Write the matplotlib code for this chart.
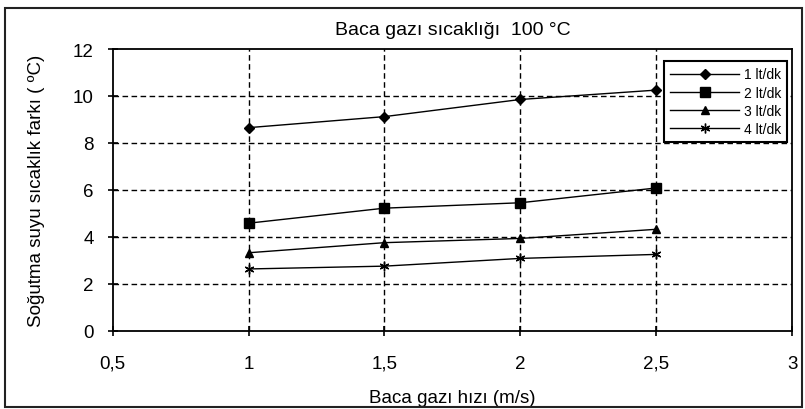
import numpy as np
import matplotlib.pyplot as plt
from matplotlib.patches import Rectangle

plt.rcParams["font.family"] = ["Liberation Sans", "DejaVu Sans"]

# veri
hiz = [1, 1.5, 2, 2.5]
seri_1 = [8.65, 9.12, 9.85, 10.25]
seri_2 = [4.58, 5.22, 5.45, 6.08]
seri_3 = [3.32, 3.75, 3.93, 4.32]
seri_4 = [2.63, 2.75, 3.08, 3.25]
etiketler = ["1 lt/dk", "2 lt/dk", "3 lt/dk", "4 lt/dk"]

fig = plt.figure(figsize=(8.05, 4.10), dpi=100)
ax = fig.add_axes([0.140, 0.191, 0.844, 0.687])

# dis cerceve
fig.patches.append(Rectangle((0.006, 0.004), 0.990, 0.975, transform=fig.transFigure,
                             fill=False, edgecolor="#222222", linewidth=1.5))

stiller = [("D", 5), ("s", 7), ("^", 6), ((6, 2, 0), 7)]
for y, lab, (m, ms) in zip([seri_1, seri_2, seri_3, seri_4], etiketler, stiller):
    ax.plot(hiz, y, color="black", linewidth=1, marker=m, markersize=ms,
            markeredgewidth=1, label=lab, zorder=3)

ax.set_xlim(0.5, 3)
ax.set_ylim(0, 12)
ax.set_xticks([0.5, 1, 1.5, 2, 2.5, 3])
ax.set_xticklabels(["0,5", "1", "1,5", "2", "2,5", "3"])
ax.set_yticks(range(0, 13, 2))
ax.tick_params(direction="inout", length=7, width=1.2, labelsize=13.5)
ax.tick_params(axis="x", pad=14)
ax.tick_params(axis="y", pad=10)

for y in range(2, 12, 2):
    ax.axhline(y, color="black", linestyle=(0, (4, 2.5)), linewidth=1, zorder=1)
for x in [1, 1.5, 2, 2.5]:
    ax.axvline(x, color="black", linestyle=(0, (4, 2.5)), linewidth=1, zorder=1)

for s in ax.spines.values():
    s.set_linewidth(1.3)

ax.set_title("Baca gazı sıcaklığı  100 °C", fontsize=14, pad=11)
ax.set_xlabel("Baca gazı hızı (m/s)", fontsize=13.5, labelpad=12)
ax.set_ylabel("Soğutma suyu sıcaklık farkı ( ºC)", fontsize=13.5, labelpad=20)

leg = ax.legend(loc="upper left", bbox_to_anchor=(0.811, 0.957), borderaxespad=0,
                fontsize=10, fancybox=False, framealpha=1, handlelength=5,
                handletextpad=0.3, labelspacing=0.3, borderpad=0.45)
leg.get_frame().set_edgecolor("black")
leg.get_frame().set_linewidth(1.5)

fig.savefig("out.png", dpi=100)
